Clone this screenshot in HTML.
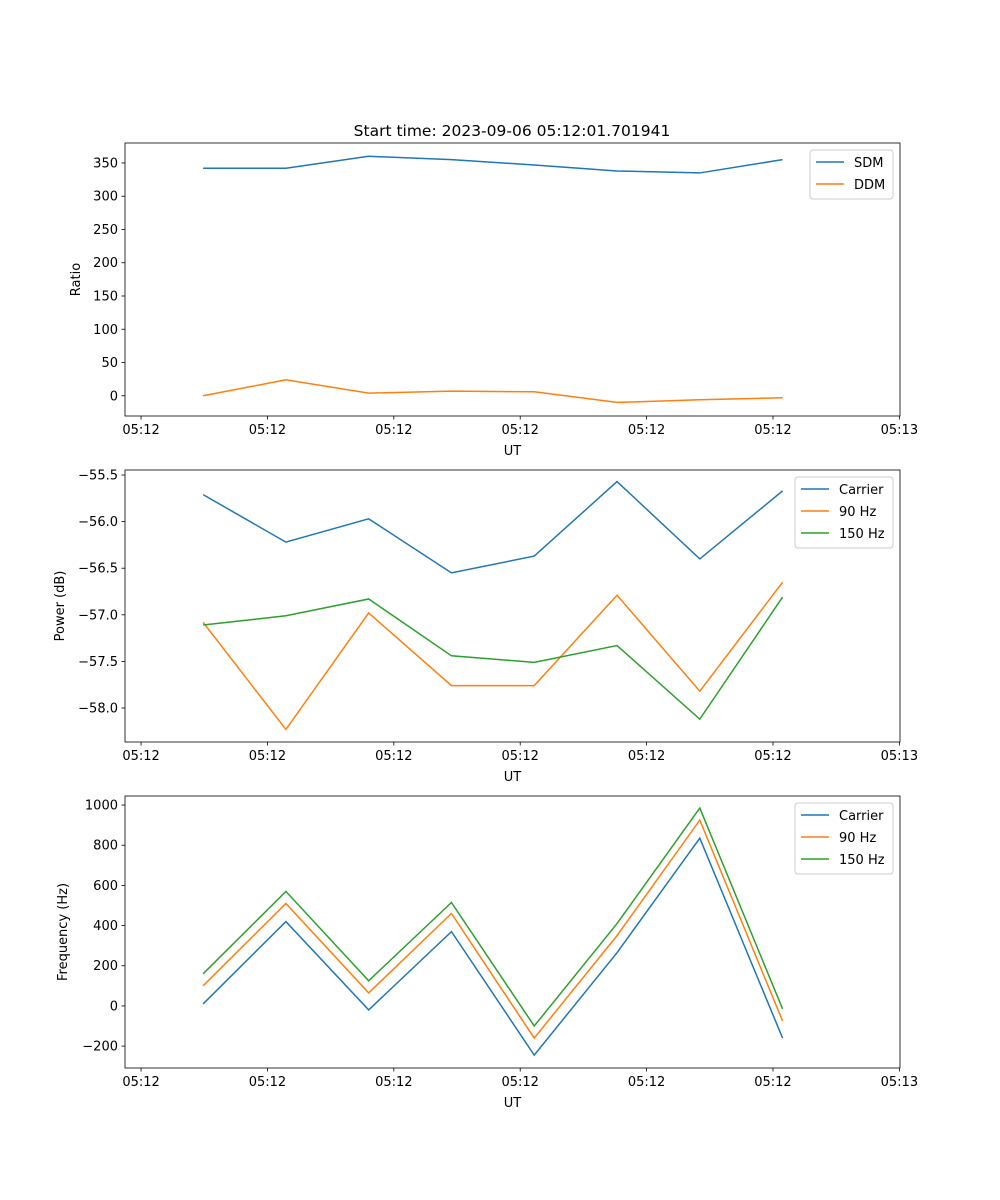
<!DOCTYPE html>
<html><head><meta charset="utf-8"><style>
body{margin:0;background:#fff}
svg{display:block;font-family:"DejaVu Sans","Liberation Sans",sans-serif}
</style></head><body>
<svg id="fig" width="1000" height="1200" xmlns="http://www.w3.org/2000/svg"></svg>
<script>
const sampleTimes=[4.91,11.46,18.01,24.56,31.11,37.66,44.21,50.76];
const xTickVals=[0,10,20,30,40,50,60];
const xTickLabels=["05:12","05:12","05:12","05:12","05:12","05:12","05:13"];
const sdm=[342,342,360,355,347,338,335,355];
const ddm=[0,24,4,7,6,-10,-6,-3];
const pCarrier=[-55.71,-56.22,-55.97,-56.55,-56.37,-55.57,-56.40,-55.67];
const p90=[-57.08,-58.23,-56.98,-57.76,-57.76,-56.79,-57.82,-56.65];
const p150=[-57.11,-57.01,-56.83,-57.44,-57.51,-57.33,-58.12,-56.81];
const fCarrier=[10,420,-20,370,-245,265,835,-160];
const f90=[100,510,65,460,-160,350,925,-75];
const f150=[160,570,125,515,-100,410,985,-15];
const ticks1=[0,50,100,150,200,250,300,350];
const ticks2=[-58.0,-57.5,-57.0,-56.5,-56.0,-55.5];
const ticks3=[-200,0,200,400,600,800,1000];

const NS="http://www.w3.org/2000/svg";
const svg=document.getElementById('fig');
function el(tag,attrs,parent){const e=document.createElementNS(NS,tag);for(const k in attrs)e.setAttribute(k,attrs[k]);(parent||svg).appendChild(e);return e;}
const L=125,R=900,xmin=-1.27,xmax=60.05;
const sx=v=>L+(v-xmin)/(xmax-xmin)*(R-L);
const C=['#1f77b4','#ff7f0e','#2ca02c'];

function panel(name,top,bot,ymin,ymax,yticks,fmt,series,names,ylabel,legend){
  const g=el('g',{});
  
  
  const sy=v=>bot-(v-ymin)/(ymax-ymin)*(bot-top);
  series.forEach((s,i)=>{
    const p=el('polyline',{points:s.map((v,j)=>sx(sampleTimes[j])+','+sy(v)).join(' '),fill:'none',stroke:C[i],'stroke-width':1.5},g);
    
    
  });
  const fr=el('rect',{x:L,y:top,width:R-L,height:bot-top,fill:'none',stroke:'#000','stroke-width':0.8},g);
  
  
  xTickVals.forEach((v,i)=>{
    const x=sx(v);
    el('line',{x1:x,x2:x,y1:bot,y2:bot+3.5,stroke:'#000','stroke-width':0.8},g);
    const t=el('text',{x:x,y:bot+18,'font-size':13,'text-anchor':'middle'},g);
    t.textContent=xTickLabels[i];
    
    
  });
  yticks.forEach(v=>{
    const y=sy(v);
    el('line',{x1:L-3.5,x2:L,y1:y,y2:y,stroke:'#000','stroke-width':0.8},g);
    const t=el('text',{x:L-7,y:y+4.5,'font-size':13,'text-anchor':'end'},g);
    t.textContent=fmt(v);
    
    
  });
  const xl=el('text',{x:(L+R)/2,y:bot+39,'font-size':13,'text-anchor':'middle'},g);
  xl.textContent='UT';
  
  
  const yl=el('text',{x:0,y:0,'font-size':13,'text-anchor':'middle',transform:`translate(${legend.yl},${(top+bot)/2}) rotate(-90)`},g);
  yl.textContent=ylabel;
  
  
  const lg=el('g',{},g);
  
  
  el('rect',{x:legend.x,y:top+7,width:R-7-legend.x,height:names.length*22+5,fill:'#fff',stroke:'#ccc',rx:3},lg);
  names.forEach((n,i)=>{
    const y=top+19+i*22;
    el('line',{x1:legend.x+6,x2:legend.x+34,y1:y,y2:y,stroke:C[i],'stroke-width':1.5},lg);
    const t=el('text',{x:legend.x+44,y:y+5,'font-size':13},lg);
    t.textContent=n;
    
    
  });
}
const title=el('text',{x:512,y:136,'font-size':15.5,'text-anchor':'middle'});
title.textContent='Start time: 2023-09-06 05:12:01.701941';



panel('ratio-panel',143,416,-30.4,380,ticks1,v=>String(v),[sdm,ddm],['SDM','DDM'],'Ratio',{x:810,yl:80});
panel('power-panel',470,742,-58.365,-55.446,ticks2,v=>(v<0?'\u2212':'')+Math.abs(v).toFixed(1),[pCarrier,p90,p150],['Carrier','90 Hz','150 Hz'],'Power (dB)',{x:795,yl:64});
panel('frequency-panel',796,1068,-309,1045,ticks3,v=>(v<0?'\u2212':'')+Math.abs(v),[fCarrier,f90,f150],['Carrier','90 Hz','150 Hz'],'Frequency (Hz)',{x:795,yl:67});
</script>
</body></html>
